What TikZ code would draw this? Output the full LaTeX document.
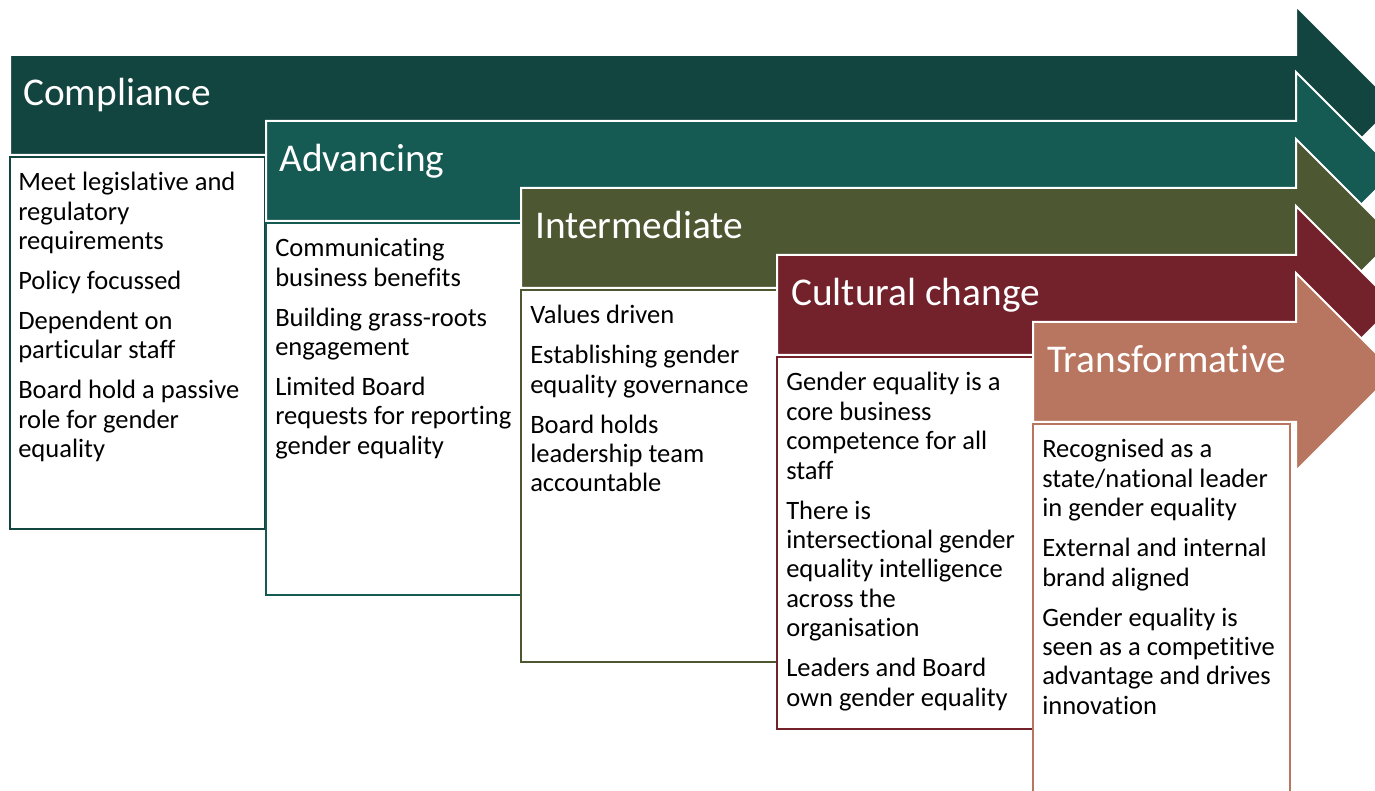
\documentclass[tikz,border=0pt]{standalone}
\usepackage{fontspec}
\setmainfont{Carlito}[Ligatures=NoCommon]
\definecolor{compl}{HTML}{12453F}
\definecolor{advan}{HTML}{155A53}
\definecolor{inter}{HTML}{4D5732}
\definecolor{cultu}{HTML}{73212B}
\definecolor{trans}{HTML}{B87660}
\newcommand{\lnstrut}{\rule{0pt}{16pt}}
\begin{document}
\begin{tikzpicture}[x=0.75pt,y=0.75pt,yscale=-1,xscale=1,
  stagearrow/.style={draw=white, line width=1.5pt},
  stagebox/.style={fill=white, line width=1.8pt},
  stagetitle/.style={anchor=base west, inner sep=0pt, text=white, font=\fontsize{29.5}{35}\selectfont},
  stagetext/.style={anchor=north west, inner sep=0pt, align=left, font=\fontsize{19.9}{22.1}\selectfont}]
\useasboundingbox (0,0) rectangle (1375,791);
\clip (0,0) rectangle (1375,791);

%Shape: Right Arrow (Compliance)
\draw [stagearrow, fill=compl] (10,55) -- (1296,55) -- (1296,6) -- (1395,105) -- (1296,204) -- (1296,155) -- (10,155) -- cycle ;
%Shape: Rectangle
\draw [stagebox, draw=compl] (10,157) rectangle (265,529) ;

%Shape: Right Arrow (Advancing)
\draw [stagearrow, fill=advan] (266,121) -- (1296,121) -- (1296,72) -- (1395,171) -- (1296,270) -- (1296,221) -- (266,221) -- cycle ;
%Shape: Rectangle
\draw [stagebox, draw=advan] (266,223) rectangle (521,595) ;

%Shape: Right Arrow (Intermediate)
\draw [stagearrow, fill=inter] (521,188) -- (1296,188) -- (1296,139) -- (1395,238) -- (1296,337) -- (1296,288) -- (521,288) -- cycle ;
%Shape: Rectangle
\draw [stagebox, draw=inter] (521,290) rectangle (777,662) ;

%Shape: Right Arrow (Cultural change)
\draw [stagearrow, fill=cultu] (777,255) -- (1296,255) -- (1296,206) -- (1395,305) -- (1296,404) -- (1296,355) -- (777,355) -- cycle ;
%Shape: Rectangle
\draw [stagebox, draw=cultu] (777,357) rectangle (1033,729) ;

%Shape: Right Arrow (Transformative)
\draw [stagearrow, fill=trans] (1033,322) -- (1296,322) -- (1296,273) -- (1395,372) -- (1296,471) -- (1296,422) -- (1033,422) -- cycle ;
%Shape: Rectangle
\draw [stagebox, draw=trans] (1033,424) rectangle (1290,796) ;


% Text Node
\draw (23,106) node (cmptitle) [stagetitle] {Compliance};
% Text Node
\draw (279,172) node (advtitle) [stagetitle] {Advancing};
% Text Node
\draw (535,239) node (inttitle) [stagetitle] {Intermediate};
% Text Node
\draw (791,306) node (cultitle) [stagetitle] {Cultural change};
% Text Node
\draw (1047,373) node (trntitle) [stagetitle] {Transformative};

% Text Node
\draw (18,169) node (cmptext) [stagetext] {\lnstrut Meet legislative and\\regulatory\\requirements\\[7.9pt]
Policy focussed\\[7.9pt]
Dependent on\\particular staff\\[7.9pt]
Board hold a passive\\role for gender\\equality};
% Text Node
\draw (275,235) node (advtext) [stagetext] {\lnstrut Communicating\\business benefits\\[7.9pt]
Building grass-roots\\engagement\\[7.9pt]
Limited Board\\requests for reporting\\gender equality};
% Text Node
\draw (530,302) node (inttext) [stagetext] {\lnstrut Values driven\\[7.9pt]
Establishing gender\\equality governance\\[7.9pt]
Board holds\\leadership team\\accountable};
% Text Node
\draw (786,369) node (cultext) [stagetext] {\lnstrut Gender equality is a\\core business\\competence for all\\staff\\[7.9pt]
There is\\intersectional gender\\equality intelligence\\across the\\organisation\\[7.9pt]
Leaders and Board\\own gender equality};
% Text Node
\draw (1042,436) node (trntext) [stagetext] {\lnstrut Recognised as a\\state/national leader\\in gender equality\\[7.9pt]
External and internal\\brand aligned\\[7.9pt]
Gender equality is\\seen as a competitive\\advantage and drives\\innovation};
\end{tikzpicture}
\end{document}
